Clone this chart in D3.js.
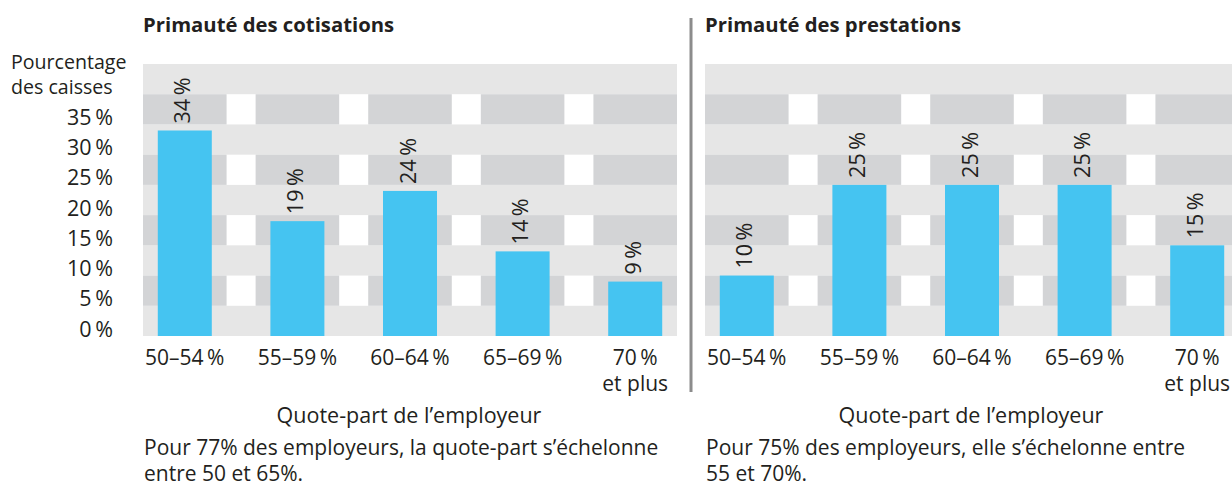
<!DOCTYPE html>
<html>
<head>
<meta charset="utf-8">
<script src="https://cdn.jsdelivr.net/npm/d3@7"></script>
<style>
  body { margin: 0; background: #fff; }
  svg text { font-family: "Open Sans", "Noto Sans", sans-serif; fill: #231f20; }
</style>
</head>
<body>
<div id="chart"></div>
<script>

// data
var categories = ["50–54\u2009%", "55–59\u2009%", "60–64\u2009%", "65–69\u2009%", "70\u2009%|et plus"];
var cotisations = [34, 19, 24, 14, 9];
var prestations = [10, 25, 25, 25, 15];
var yTicks = [0, 5, 10, 15, 20, 25, 30, 35];
var panelTitles = ["Primauté des cotisations", "Primauté des prestations"];
var notes = [
  ["Pour 77% des employeurs, la quote-part s’échelonne", "entre 50 et 65%."],
  ["Pour 75% des employeurs, elle s’échelonne entre", "55 et 70%."]
];
var xTitle = "Quote-part de l’employeur";

var width = 1232;
var height = 486;
var fontSize = 21.5;

var svg = d3.select("#chart")
  .append("svg")
    .attr("width", width)
    .attr("height", height)

var yScale = d3.scaleLinear()
  .domain([0, 45])
  .range([336, 64])

// y title
var yTitle = svg.append("text")
    .attr("y", 69)
    .style("font-size", "19.6px")
yTitle.append("tspan").attr("x", 11).text("Pourcentage");
yTitle.append("tspan").attr("x", 11).attr("dy", 25).text("des caisses");

// y axis, labels sit on the value line
var yAxis = svg.append("g")
    .attr("transform", "translate(113,0)")
    .call(d3.axisLeft(yScale).tickValues(yTicks).tickSize(0).tickPadding(0)
        .tickFormat(d => d + "\u2009%"))
yAxis.select(".domain").remove();
yAxis.selectAll("text")
    .attr("dy", 0)
    .attr("fill", "#231f20")
    .style("font-size", fontSize + "px")
    .style("font-family", "'Open Sans', sans-serif")

// divider between panels
svg.append("line")
    .attr("x1", 691).attr("x2", 691)
    .attr("y1", 18).attr("y2", 392)
    .attr("stroke", "#8c8c8c")
    .attr("stroke-width", 3)

function drawPanel(left, right, values, title, note) {
    var xScale = d3.scaleBand()
      .domain(categories)
      .range([left, right])
      .paddingInner(29 / 112.5)
      .paddingOuter(0)

    var g = svg.append("g")

    // background: light rows, dark rows split into columns
    g.append("rect")
        .attr("x", left)
        .attr("y", yScale(45))
        .attr("width", right - left)
        .attr("height", yScale(0) - yScale(45))
        .attr("fill", "#e6e6e6")

    var darkRows = [5, 15, 25, 35];
    darkRows.forEach(function(r) {
        g.append("rect")
            .attr("x", left)
            .attr("y", yScale(r + 5))
            .attr("width", right - left)
            .attr("height", yScale(r) - yScale(r + 5))
            .attr("fill", "#ffffff")
        g.selectAll(null)
            .data(categories)
            .join("rect")
            .attr("x", d => xScale(d))
            .attr("y", yScale(r + 5))
            .attr("width", xScale.bandwidth())
            .attr("height", yScale(r) - yScale(r + 5))
            .attr("fill", "#d3d4d6")
    });

    var barW = 54;
    g.selectAll(".bar")
        .data(values)
        .join("rect")
        .attr("class", "bar")
        .attr("x", (d, i) => xScale(categories[i]) + (xScale.bandwidth() - barW) / 2)
        .attr("y", d => yScale(d))
        .attr("width", barW)
        .attr("height", d => yScale(0) - yScale(d))
        .attr("fill", "#45c4f1")

    // rotated value labels above the bars
    g.selectAll(".lbl")
        .data(values)
        .join("text")
        .attr("class", "lbl")
        .attr("transform", (d, i) => "translate(" + (xScale(categories[i]) + xScale.bandwidth() / 2 - 2) + "," + (yScale(d) - 7) + ") rotate(-90)")
        .attr("dy", "0.35em")
        .style("font-size", fontSize + "px")
        .text(d => d + "\u2009%")

    // x labels
    var xl = g.selectAll(".xl")
        .data(categories)
        .join("text")
        .attr("class", "xl")
        .attr("text-anchor", "middle")
        .attr("y", 365)
        .style("font-size", "21px")
    xl.selectAll("tspan")
        .data(d => d.split("|").map(t => ({t: t, c: d})))
        .join("tspan")
        .attr("x", d => xScale(d.c) + xScale.bandwidth() / 2)
        .attr("dy", (d, i) => i ? 26 : 0)
        .text(d => d.t)

    g.append("text")
        .attr("text-anchor", "middle")
        .attr("x", (left + right) / 2 - 1)
        .attr("y", 423)
        .style("font-size", fontSize + "px")
        .text(xTitle)

    g.append("text")
        .attr("x", left)
        .attr("y", 32)
        .style("font-size", "20.3px")
        .style("font-weight", "bold")
        .text(title)

    var nt = g.append("text")
        .attr("y", 455)
        .style("font-size", "21px")
    nt.selectAll("tspan")
        .data(note)
        .join("tspan")
        .attr("x", left + 1)
        .attr("dy", (d, i) => i ? 26 : 0)
        .text(d => d)
}

drawPanel(143, 677, cotisations, panelTitles[0], notes[0]);
drawPanel(705, 1239, prestations, panelTitles[1], notes[1]);

</script>
</body>
</html>
